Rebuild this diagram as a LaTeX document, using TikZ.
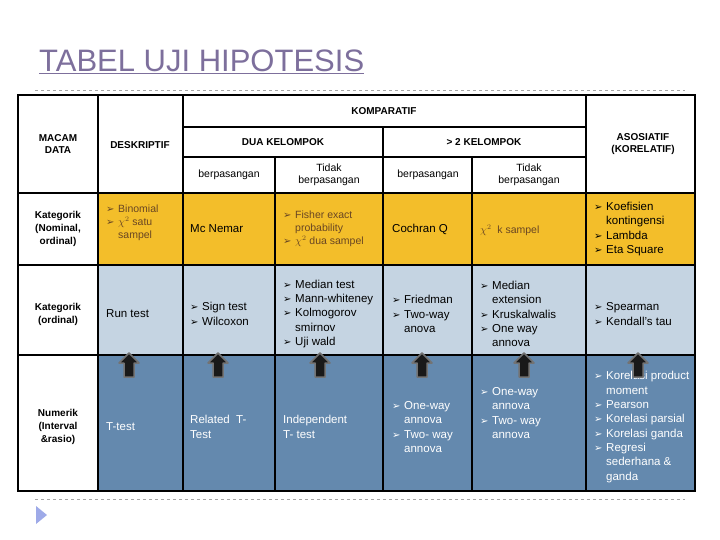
\documentclass[tikz,border=0pt]{standalone}
\usepackage{fontspec}
\setmainfont{Liberation Sans}
\newfontfamily\dv{DejaVu Sans}
\usetikzlibrary{positioning}
\definecolor{yel}{HTML}{F3BE2A}
\definecolor{lbl}{HTML}{C5D4E2}
\definecolor{dbl}{HTML}{6489AE}
\definecolor{ttl}{HTML}{7D6F9C}
\newcommand\bu{\makebox[12pt][l]{\dv\fontsize{10}{10}\selectfont ➢}}
\newcommand\ind{\hspace*{12pt}}
\begin{document}
\begin{tikzpicture}[x=1pt,y=-1pt,
  cell/.style={font=\fontsize{11.5}{14.3}\selectfont, align=left, anchor=west, inner sep=0pt},
  hd/.style={font=\bfseries\fontsize{10}{12}\selectfont, align=center, inner sep=0pt},
  wt/.style={cell, text=white},
  grid/.style={line width=1.3pt, black},
  arr/.style={fill=black!90, draw=black!55, line width=1.5pt, line join=round}]
\useasboundingbox (0,0) rectangle (720,540);
\node[anchor=west, text=ttl, font=\fontsize{31}{34}\selectfont, inner sep=0pt] (title) at (39,62) {\underline{TABEL UJI HIPOTESIS}};
\draw[black!35, dashed] (35,90) -- (685,90);
\draw[black!35, dashed] (35,499) -- (685,499);
\fill[lbl!80!blue] (36,506) -- (47,515) -- (36,524) -- cycle;
% fills
\fill[yel] (98,193) rectangle (695,265);
\fill[lbl] (98,265) rectangle (695,355);
\fill[dbl] (98,355) rectangle (695,491);
% grid
\draw[grid] (18,95) rectangle (695,491);
\draw[grid] (183,127) -- (586,127);
\draw[grid] (183,157) -- (586,157);
\draw[grid] (18,193) -- (695,193);
\draw[grid] (18,265) -- (695,265);
\draw[grid] (18,355) -- (695,355);
\draw[grid] (98,95) -- (98,491);
\draw[grid] (183,95) -- (183,491);
\draw[grid] (586,95) -- (586,491);
\draw[grid] (275,157) -- (275,491);
\draw[grid] (472,157) -- (472,491);
\draw[grid] (383,127) -- (383,491);
% headers
\node[hd] (kom) at (384,111) {KOMPARATIF};
\node[hd] (mac) at (58,144) {MACAM\\DATA};
\node[hd] (des) at (140,145) {DESKRIPTIF};
\node[hd] (dua) at (283,142) {DUA KELOMPOK};
\node[hd] (lbh) at (484,142) {> 2 KELOMPOK};
\node[hd] (aso) at (643,144) {ASOSIATIF\\(KORELATIF)};
\node[hd,font=\fontsize{10.5}{12.5}\selectfont] (h1) at (229,175) {berpasangan};
\node[hd,font=\fontsize{10.5}{12.5}\selectfont] (h2) at (329,175) {Tidak\\berpasangan};
\node[hd,font=\fontsize{10.5}{12.5}\selectfont] (h3) at (428,175) {berpasangan};
\node[hd,font=\fontsize{10.5}{12.5}\selectfont] (h4) at (529,175) {Tidak\\berpasangan};
% row labels
\node[hd,font=\bfseries\fontsize{10}{13}\selectfont] (r1) at (58,229) {Kategorik\\(Nominal,\\ordinal)};
\node[hd,font=\bfseries\fontsize{10}{13}\selectfont] (r2) at (58,314) {Kategorik\\(ordinal)};
\node[hd,font=\bfseries\fontsize{10}{13}\selectfont] (r3) at (58,427) {Numerik\\(Interval\\\&rasio)};
% row 1
\node[cell, text=black!45!brown, font=\fontsize{10.5}{13}\selectfont] (c11) at (106,223) {\bu Binomial\\\bu $\chi^2$ satu\\\ind sampel};
\node[cell] (c12) at (190,229) {Mc Nemar};
\node[cell, text=black!45!brown, font=\fontsize{10.5}{13}\selectfont] (c13) at (283,229) {\bu Fisher exact\\\ind probability\\\bu $\chi^2$\ dua sampel};
\node[cell] (c14) at (392,229) {Cochran Q};
\node[cell, text=black!45!brown, font=\fontsize{10.5}{13}\selectfont] (c15) at (480,230) {$\chi^2$\ \ k sampel};
\node[cell] (c16) at (594,229) {\bu Koefisien\\\ind kontingensi\\\bu Lambda\\\bu Eta Square};
% row 2
\node[cell] (c21) at (106,314) {Run test};
\node[cell] (c22) at (190,314) {\bu Sign test\\\bu Wilcoxon};
\node[cell] (c23) at (283,314) {\bu Median test\\\bu Mann-whiteney\\\bu Kolmogorov\\\ind smirnov\\\bu Uji wald};
\node[cell] (c24) at (392,314) {\bu Friedman\\\bu Two-way\\\ind anova};
\node[cell] (c25) at (480,314) {\bu Median\\\ind extension\\\bu Kruskalwalis\\\bu One way\\\ind annova};
\node[cell] (c26) at (594,314) {\bu Spearman\\\bu Kendall's tau};
% row 3
\node[wt] (c31) at (106,427) {T-test};
\node[wt] (c32) at (190,427) {Related\ \ T-\\Test};
\node[wt] (c33) at (283,427) {Independent\\T- test};
\node[wt] (c34) at (392,427) {\bu One-way\\\ind annova\\\bu Two- way\\\ind annova};
\node[wt] (c35) at (480,413) {\bu One-way\\\ind annova\\\bu Two- way\\\ind annova};
\node[wt] (c36) at (594,427) {\bu Korelasi product\\\ind moment\\\bu Pearson\\\bu Korelasi parsial\\\bu Korelasi ganda\\\bu Regresi\\\ind sederhana \&\\\ind ganda};
% arrows
\foreach \c in {129,218,320,422,524,638}
  \draw[arr] (\c,353) -- (\c+10,363) -- (\c+5,363) -- (\c+5,377) -- (\c-5,377) -- (\c-5,363) -- (\c-10,363) -- cycle;
\end{tikzpicture}
\end{document}
